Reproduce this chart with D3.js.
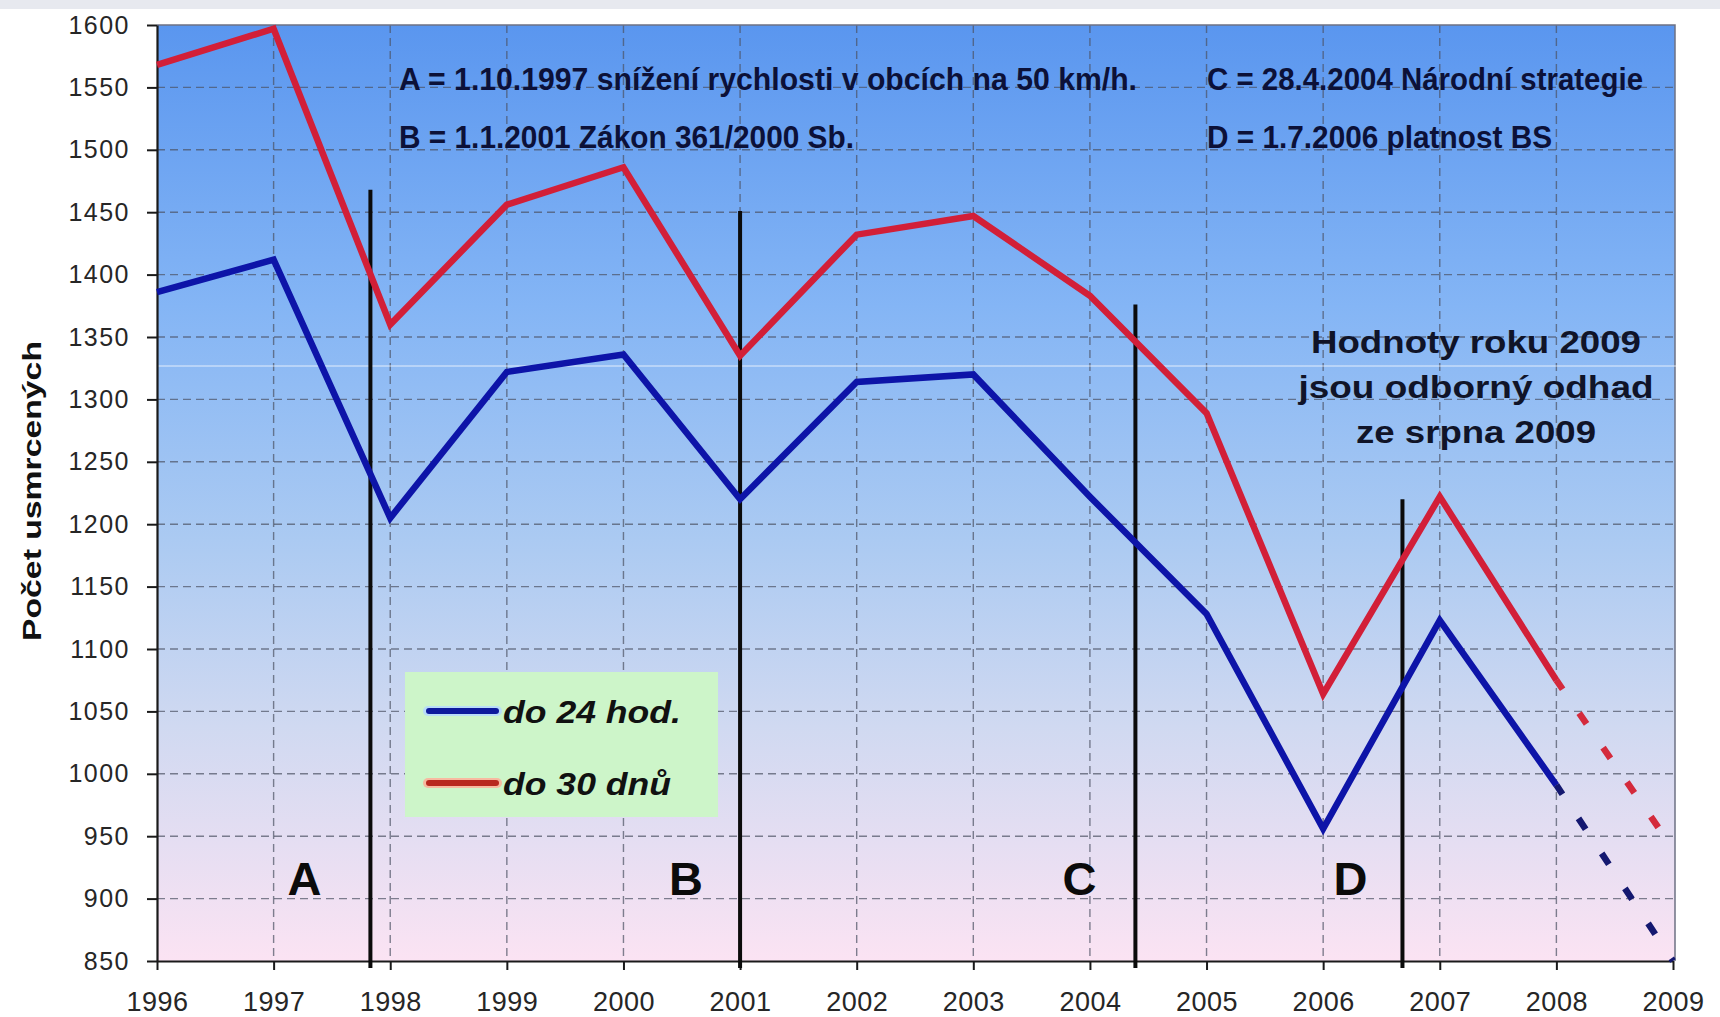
<!DOCTYPE html>
<html>
<head>
<meta charset="utf-8">
<script src="https://cdn.jsdelivr.net/npm/d3@7"></script>
<style>
  body { margin: 0; background: #fff; }
  svg { display: block; font-family: "Liberation Sans", Arial, sans-serif; }
</style>
</head>
<body>
<svg id="chart" width="1720" height="1017"></svg>
<script>
// data
const years = [1996, 1997, 1998, 1999, 2000, 2001, 2002, 2003, 2004, 2005, 2006, 2007, 2008, 2009];
const killed24h = [1386, 1412, 1205, 1322, 1336, 1220, 1314, 1320, 1222, 1128, 956, 1123, 991, 850];
const killed30d = [1568, 1597, 1360, 1456, 1486, 1335, 1432, 1447, 1383, 1289, 1064, 1222, 1075, 940];
const yTicks = [850, 900, 950, 1000, 1050, 1100, 1150, 1200, 1250, 1300, 1350, 1400, 1450, 1500, 1550, 1600];
const seriesNames = ["do 24 hod.", "do 30 dnů"];
const seriesColors = ["#0d14a8", "#d21f38"];

const eventLetters = ["A", "B", "C", "D"];
const eventYears = [1997.83, 2001.0, 2004.39, 2006.68];
const eventTops = [1468, 1451, 1376, 1220];

const notesLeft = ["A = 1.10.1997 snížení rychlosti v obcích na 50 km/h.", "B = 1.1.2001 Zákon 361/2000 Sb."];
const notesRight = ["C = 28.4.2004 Národní strategie", "D = 1.7.2006 platnost BS"];
const estimateNote = ["Hodnoty roku 2009", "jsou odborný odhad", "ze srpna 2009"];

const svg = d3.select("#chart");
const x = d3.scaleLinear().domain([1996, 2009]).range([157, 1673]);
const y = d3.scaleLinear().domain([850, 1600]).range([961, 25]);

// background
const defs = svg.append("defs");
const grad = defs.append("linearGradient").attr("id", "bg")
  .attr("x1", 0).attr("y1", 0).attr("x2", 0).attr("y2", 1);
[[0, "#5a96ef"], [0.3, "#84b5f5"], [0.55, "#abcaf2"], [0.75, "#d0d9f1"], [1, "#fbe3f3"]]
  .forEach(([o, c]) => grad.append("stop").attr("offset", o).attr("stop-color", c));

svg.append("rect").attr("x", 0).attr("y", 0).attr("width", 1720).attr("height", 9).attr("fill", "#e7e9ef");
svg.append("rect")
  .attr("x", x(1996)).attr("y", y(1600))
  .attr("width", x(2009) - x(1996) + 2).attr("height", y(850) - y(1600))
  .attr("fill", "url(#bg)");

// grid
const grid = svg.append("g").attr("stroke", "#4c5163").attr("stroke-opacity", 0.7)
  .attr("stroke-width", 1.4).attr("stroke-dasharray", "8,5");
grid.selectAll(".h").data(yTicks.filter(d => d > 850 && d < 1600)).join("line")
  .attr("x1", x(1996)).attr("x2", x(2009)).attr("y1", d => y(d)).attr("y2", d => y(d));
grid.selectAll(".v").data(years.filter(d => d > 1996 && d < 2009)).join("line")
  .attr("x1", d => x(d)).attr("x2", d => x(d)).attr("y1", y(1600)).attr("y2", y(850));

// plot frame (top and right)
svg.append("path")
  .attr("d", `M${x(1996)},${y(1600)}H${x(2009) + 2}V${y(850)}`)
  .attr("fill", "none").attr("stroke", "#6d7284").attr("stroke-width", 1.5);

// faint white scan line
svg.append("line").attr("x1", x(1996)).attr("x2", x(2009) + 4)
  .attr("y1", 366).attr("y2", 366).attr("stroke", "#fff").attr("stroke-opacity", 0.75);

// axes
const yAxis = svg.append("g").attr("transform", `translate(${x(1996)},0)`)
  .call(d3.axisLeft(y).tickValues(yTicks).tickFormat(d3.format("d"))
    .tickSize(10).tickSizeOuter(0).tickPadding(17));
const xAxis = svg.append("g").attr("transform", `translate(0,${y(850)})`)
  .call(d3.axisBottom(x).tickValues(years).tickFormat(d3.format("d"))
    .tickSize(9).tickSizeOuter(0).tickPadding(22));
[yAxis, xAxis].forEach(g => {
  g.select(".domain").attr("stroke", "#1a1a1a").attr("stroke-width", 2.2);
  g.selectAll(".tick line").attr("stroke", "#1a1a1a").attr("stroke-width", 2);
  g.selectAll(".tick text").attr("fill", "#262626")
    .style("font-family", "\"Liberation Sans\", Arial, sans-serif");
});
yAxis.selectAll(".tick text").style("font-size", "25px").style("letter-spacing", "1.5px");
xAxis.selectAll(".tick text").style("font-size", "27px").style("letter-spacing", "0.5px");

// y axis title
svg.append("text")
  .attr("transform", "translate(41,491) rotate(-90)")
  .attr("text-anchor", "middle")
  .attr("font-size", 26).attr("font-weight", "bold").attr("fill", "#111")
  .attr("textLength", 300).attr("lengthAdjust", "spacingAndGlyphs")
  .text("Počet usmrcených");

// event lines
svg.append("g").selectAll("line").data(eventYears).join("line")
  .attr("x1", d => x(d)).attr("x2", d => x(d))
  .attr("y1", (d, i) => y(eventTops[i])).attr("y2", y(850) + 7)
  .attr("stroke", "#0b0b0b").attr("stroke-width", 4);

// event letters
const letterShift = [-66, -54, -56, -52];
svg.append("g").selectAll("text").data(eventLetters).join("text")
  .attr("x", (d, i) => x(eventYears[i]) + letterShift[i])
  .attr("y", 895)
  .attr("text-anchor", "middle")
  .attr("font-size", 47).attr("font-weight", "bold").attr("fill", "#0b0b0b")
  .text(d => d);

// series lines
const line = d3.line().x(d => x(d[0])).y(d => y(d[1]));
[killed24h, killed30d].forEach((vals, s) => {
  const pts = years.map((yr, i) => [yr, vals[i]]);
  const n = pts.length;
  svg.append("path").datum(pts.slice(0, n - 1))
    .attr("d", line).attr("fill", "none")
    .attr("stroke", seriesColors[s]).attr("stroke-width", 6.5)
    .attr("stroke-linejoin", "miter").attr("stroke-miterlimit", 10);
  svg.append("path").datum(pts.slice(n - 2))
    .attr("d", line).attr("fill", "none")
    .attr("stroke", s === 0 ? "#141870" : "#d42a3c").attr("stroke-width", 6.5)
    .attr("stroke-dasharray", "13,29").attr("stroke-dashoffset", 2);
});

// notes at top
const noteStyle = sel => sel
  .attr("font-family", "\"Liberation Sans Narrow\", \"Arial Narrow\", \"Liberation Sans\", sans-serif")
  .attr("font-size", 31).attr("font-weight", "bold").attr("fill", "#0c1138")
  .attr("lengthAdjust", "spacingAndGlyphs");
const leftLens = [738, 455];
const rightLens = [436, 345];
svg.append("g").selectAll("text").data(notesLeft).join("text")
  .attr("x", 399).attr("y", (d, i) => 90 + i * 58)
  .attr("textLength", (d, i) => leftLens[i])
  .call(noteStyle).text(d => d);
svg.append("g").selectAll("text").data(notesRight).join("text")
  .attr("x", 1207).attr("y", (d, i) => 90 + i * 58)
  .attr("textLength", (d, i) => rightLens[i])
  .call(noteStyle).text(d => d);

// estimate note
const estLens = [330, 355, 240];
svg.append("g").selectAll("text").data(estimateNote).join("text")
  .attr("x", 1476).attr("y", (d, i) => 353 + i * 45)
  .attr("text-anchor", "middle")
  .attr("font-size", 31).attr("font-weight", "bold").attr("fill", "#101428")
  .attr("textLength", (d, i) => estLens[i]).attr("lengthAdjust", "spacingAndGlyphs")
  .text(d => d);

// legend
const legend = svg.append("g");
legend.append("rect").attr("x", 405).attr("y", 672).attr("width", 313).attr("height", 145)
  .attr("fill", "#cdf5c9");
const legLens = [178, 168];
seriesNames.forEach((name, i) => {
  const ly = 711 + i * 72;
  legend.append("line").attr("x1", 428).attr("x2", 497).attr("y1", ly).attr("y2", ly)
    .attr("stroke", i === 0 ? "#b8dcf8" : "#f7b9a0").attr("stroke-width", 10).attr("stroke-linecap", "round");
  legend.append("line").attr("x1", 429).attr("x2", 496).attr("y1", ly).attr("y2", ly)
    .attr("stroke", i === 0 ? "#0d1a9c" : "#b8281e").attr("stroke-width", 6).attr("stroke-linecap", "round");
  legend.append("text").attr("x", 503).attr("y", ly + 12)
    .attr("font-size", 32).attr("font-style", "italic").attr("font-weight", "bold").attr("fill", "#111")
    .attr("textLength", legLens[i]).attr("lengthAdjust", "spacingAndGlyphs")
    .text(name);
});
</script>
</body>
</html>
